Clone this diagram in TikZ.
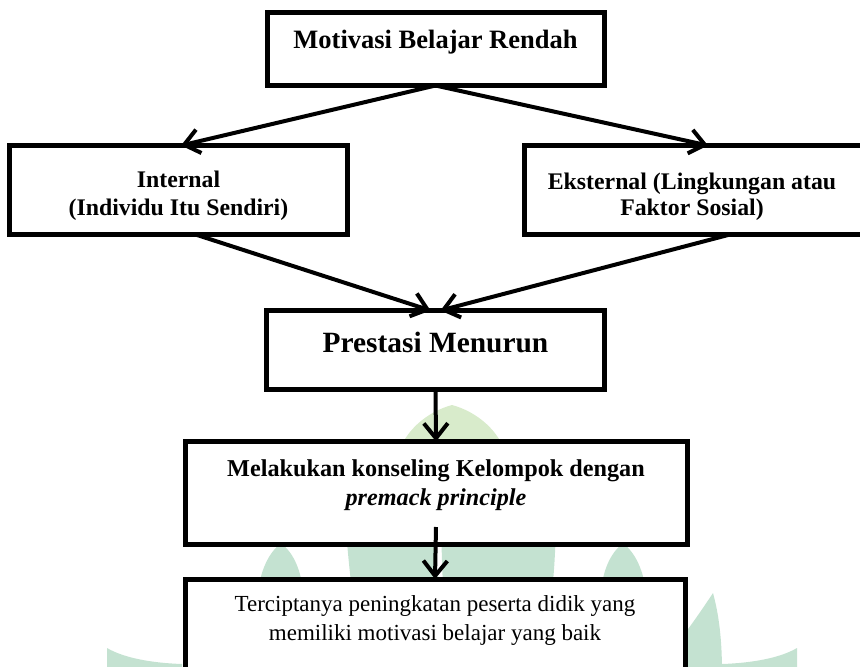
\documentclass[tikz,border=0pt]{standalone}
\usepackage{fontspec}
\setmainfont{Liberation Serif}
\usetikzlibrary{arrows.meta}
\definecolor{wmgreen}{RGB}{196,226,209}
\definecolor{wmlight}{RGB}{216,235,203}

\begin{document}
\begin{tikzpicture}[
  x=1pt,y=-1pt,
  >={Straight Barb[length=15pt,width=24pt]},
  box/.style={draw=black, line width=5pt, fill=white, inner sep=0pt, outer sep=0pt, anchor=north west},
  txt/.style={align=center, inner sep=0pt},
  head/.style={txt, font=\fontsize{26.5}{30}\selectfont\bfseries},
  side/.style={txt, font=\fontsize{23.8}{28}\selectfont\bfseries},
  flow/.style={->, draw=black, line width=4pt}
]
\useasboundingbox (0,0) rectangle (860,667);

% Watermark in the background
\fill[wmlight] (452,405) .. controls (478,412) and (500,432) .. (506,455) -- (398,455) .. controls (404,432) and (426,412) .. cycle;
\fill[wmgreen] (346,530) .. controls (348,555) and (350,575) .. (352,590) -- (440,590) -- (432,530) -- cycle;
\fill[wmgreen] (441,530) -- (556,530) .. controls (555,555) and (554,575) .. (552,590) -- (443,590) -- cycle;
\fill[wmgreen] (281,543) .. controls (292,552) and (300,566) .. (303,590) -- (258,590) .. controls (262,566) and (270,552) .. cycle;
\fill[wmgreen] (623,543) .. controls (612,552) and (604,566) .. (601,590) -- (646,590) .. controls (642,566) and (634,552) .. cycle;
\fill[wmgreen] (713,593) .. controls (719,615) and (722,640) .. (722,672) -- (680,672) -- (680,640) .. controls (695,620) and (705,605) .. cycle;
\fill[wmgreen] (722,672) -- (722,664) .. controls (752,663) and (780,658) .. (797,648) -- (797,672) -- cycle;
\fill[wmgreen] (182,672) -- (182,664) .. controls (152,663) and (124,658) .. (107,648) -- (107,672) -- cycle;

% Boxes
\node[box, minimum width=337pt, minimum height=73pt] (motivasi) at (267,12.5) {};
\node[box, minimum width=338pt, minimum height=89pt] (internal) at (9.5,145.5) {};
\node[box, minimum width=338pt, minimum height=89pt] (eksternal) at (524,145.5) {};
\node[box, minimum width=338pt, minimum height=78.5pt] (prestasi) at (266.5,310.5) {};
\node[box, minimum width=502pt, minimum height=102.5pt] (melakukan) at (185,441.5) {};
\node[box, minimum width=500pt, minimum height=100pt] (terciptanya) at (185,579) {};

% Texts
\node[head, anchor=base] (motivasi-t) at (435.5,48) {Motivasi Belajar Rendah};
\node[side, anchor=north] (internal-t) at (178.5,171) {Internal\\(Individu Itu Sendiri)};
\node[side, anchor=north, font=\fontsize{23.8}{25.5}\selectfont\bfseries] (eksternal-t) at (692,173) {Eksternal (Lingkungan atau\\Faktor Sosial)};
\node[txt, anchor=base, font=\fontsize{29.4}{33}\selectfont\bfseries] (prestasi-t) at (435.5,352) {Prestasi Menurun};
\node[txt, anchor=north, font=\fontsize{24.2}{29}\selectfont\bfseries] (melakukan-t) at (436,459.6)
  {Melakukan konseling Kelompok dengan\\\textit{premack principle}};
\node[txt, anchor=north, font=\fontsize{23}{28.5}\selectfont] (terciptanya-t) at (435,595.8)
  {Terciptanya peningkatan peserta didik yang\\memiliki motivasi belajar yang baik};

% Arrows
\draw[flow] (motivasi.south) -- ([xshift=2.5pt]internal.north);
\draw[flow] (motivasi.south) -- ([xshift=15pt]eksternal.north);
\draw[flow] ([xshift=17pt]internal.south) -- ([xshift=-5pt]prestasi.north);
\draw[flow] ([xshift=37pt]eksternal.south) -- ([xshift=5pt]prestasi.north);
\draw[flow] (prestasi.south) -- (melakukan.north);
\draw[flow] ([yshift=17pt]melakukan.south) -- (terciptanya.north);
\end{tikzpicture}
\end{document}
